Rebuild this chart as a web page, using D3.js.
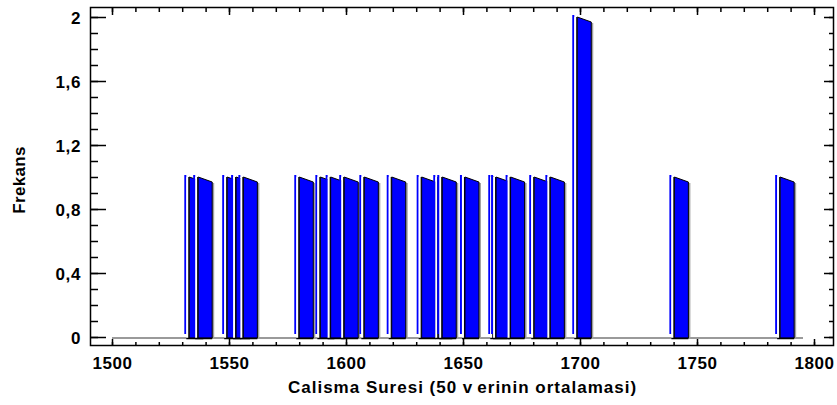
<!DOCTYPE html>
<html>
<head>
<meta charset="utf-8">
<script src="https://cdn.jsdelivr.net/npm/d3@7"></script>
<style>
  html, body { margin: 0; padding: 0; background: #fff; }
  svg { display: block; font-family: "Liberation Sans", Arial, sans-serif; }
</style>
</head>
<body>
<svg id="chart" width="837" height="405"></svg>
<script>
// ---- data ----
const classStarts = [1530.9, 1534.7, 1547.1, 1550.9, 1554.0, 1577.9, 1586.9, 1591.3, 1597.1, 1605.7,
                     1617.4, 1630.2, 1637.3, 1639.0, 1648.7, 1660.8, 1662.0, 1668.2, 1678.3, 1685.2,
                     1696.7, 1738.2, 1783.4];
const frequencies = [1, 1, 1, 1, 1, 1, 1, 1, 1, 1,
                     1, 1, 1, 1, 1, 1, 1, 1, 1, 1,
                     2, 1, 1];
const xTickValues = [1500, 1550, 1600, 1650, 1700, 1750, 1800];
const yTickValues = [0, 0.4, 0.8, 1.2, 1.6, 2];
const yTickLabels = ["0", "0,4", "0,8", "1,2", "1,6", "2"];
const xTitle = "Calisma Suresi (50 verinin ortalamasi)";
const yTitle = "Frekans";

// ---- layout ----
const frame = { left: 90, right: 833, top: 7, bottom: 345 };
const svg = d3.select("#chart");
const x = d3.scaleLinear().domain([1500, 1800]).range([112, 814]);
const y = d3.scaleLinear().domain([0, 2]).range([337, 17]);

const xMinor = d3.range(1500, 1801, 10);
const yMinor = d3.range(0, 2.001, 0.1).map(v => +v.toFixed(1));

// floor line
svg.append("line")
  .attr("x1", x(1500)).attr("x2", x(1800) - 11)
  .attr("y1", y(0) + 1).attr("y2", y(0) + 1)
  .attr("stroke", "#9a9a9a").attr("stroke-width", 2);

// bars (3D look)
const depth = 14, drop = 5;
const bars = svg.append("g").selectAll("g")
  .data(classStarts.map((c, i) => ({ c, f: frequencies[i] })))
  .join("g");

bars.each(function(d) {
  const g = d3.select(this);
  const x0 = x(d.c);
  const top = y(d.f);
  const base = y(0) + 1;
  // blue back edge
  g.append("rect").attr("x", x0).attr("y", top - 2).attr("width", 2)
    .attr("height", base - 4 - (top - 2)).attr("fill", "#0000ff");
  // shadow
  g.append("rect").attr("x", x0 + 5 + depth).attr("y", top + drop + 1).attr("width", 2)
    .attr("height", base - top - drop).attr("fill", "#a0a0a0");
  // white front face
  g.append("rect").attr("x", x0 + 2).attr("y", top).attr("width", 3)
    .attr("height", base - top).attr("fill", "#fff");
  // black edge
  g.append("line").attr("x1", x0 + 4.5).attr("x2", x0 + 4.5).attr("y1", top).attr("y2", base)
    .attr("stroke", "#000").attr("stroke-width", 1);
  // side face
  const pts = [[x0 + 5, top], [x0 + 5 + depth, top + drop], [x0 + 5 + depth, base], [x0 + 5, base]];
  g.append("polygon").attr("points", pts.map(p => p.join(",")).join(" "))
    .attr("fill", "#0000ff").attr("stroke", "#000").attr("stroke-width", 1);
  // bottom edge
  g.append("line").attr("x1", x0 + 2).attr("x2", x0 + 5 + depth).attr("y1", base + 0.5).attr("y2", base + 0.5)
    .attr("stroke", "#000").attr("stroke-width", 1.5);
});

// frame
svg.append("rect").attr("x", frame.left + 0.5).attr("y", frame.top + 0.5)
  .attr("width", frame.right - frame.left).attr("height", frame.bottom - frame.top)
  .attr("fill", "none").attr("stroke", "#000").attr("stroke-width", 1.5);

// bottom axis ticks
const axB = svg.append("g").attr("transform", `translate(0,${frame.bottom})`)
  .call(d3.axisBottom(x).tickValues(xMinor).tickSize(-3).tickFormat(""));
axB.select(".domain").remove();
axB.selectAll("line").attr("stroke-width", 1.5);
const axBM = svg.append("g").attr("transform", `translate(0,${frame.bottom})`)
  .call(d3.axisBottom(x).tickValues(xTickValues).tickSize(-6).tickFormat(d => d));
axBM.select(".domain").remove();
axBM.selectAll("line").attr("stroke-width", 1.5);
axBM.selectAll("text").attr("y", 24).attr("dy", null)
  .attr("font-size", 17).attr("font-weight", "bold").attr("letter-spacing", 0.6).attr("fill", "#000");

// top axis ticks
const axT = svg.append("g").attr("transform", `translate(0,${frame.top + 1})`)
  .call(d3.axisTop(x).tickValues(xMinor).tickSize(-4).tickFormat(""));
axT.select(".domain").remove();
axT.selectAll("line").attr("stroke-width", 1.5);
const axTM = svg.append("g").attr("transform", `translate(0,${frame.top + 1})`)
  .call(d3.axisTop(x).tickValues(xTickValues).tickSize(-7).tickFormat(""));
axTM.select(".domain").remove();
axTM.selectAll("line").attr("stroke-width", 1.5);

// left axis
const axL = svg.append("g").attr("transform", `translate(${frame.left + 1},0)`)
  .call(d3.axisLeft(y).tickValues(yMinor).tickSize(-7).tickFormat(""));
axL.select(".domain").remove();
axL.selectAll("line").attr("stroke-width", 1.5);
const axLM = svg.append("g").attr("transform", `translate(${frame.left + 1},0)`)
  .call(d3.axisLeft(y).tickValues(yTickValues).tickSize(-15)
    .tickFormat((d, i) => yTickLabels[i]));
axLM.select(".domain").remove();
axLM.selectAll("line").attr("stroke-width", 1.5);
axLM.selectAll("text").attr("x", -10).attr("dy", "0.36em")
  .attr("font-size", 17).attr("font-weight", "bold").attr("letter-spacing", 0.6).attr("fill", "#000");

// right axis
const axR = svg.append("g").attr("transform", `translate(${frame.right},0)`)
  .call(d3.axisRight(y).tickValues(yMinor).tickSize(-4).tickFormat(""));
axR.select(".domain").remove();
axR.selectAll("line").attr("stroke-width", 1.5);
const axRM = svg.append("g").attr("transform", `translate(${frame.right},0)`)
  .call(d3.axisRight(y).tickValues(yTickValues).tickSize(-9).tickFormat(""));
axRM.select(".domain").remove();
axRM.selectAll("line").attr("stroke-width", 1.5);

// titles
const xt = svg.append("text")
  .attr("x", (frame.left + frame.right) / 2 + 1).attr("y", 393)
  .attr("text-anchor", "middle").attr("font-size", 17).attr("font-weight", "bold")
  .attr("letter-spacing", 1).attr("fill", "#000");
xt.append("tspan").text("Calisma Suresi (50 v");
xt.append("tspan").attr("dx", 4).text("erinin ortalamasi)");

svg.append("text")
  .attr("transform", "translate(25,180) rotate(-90)")
  .attr("text-anchor", "middle").attr("font-size", 17).attr("font-weight", "bold")
  .attr("letter-spacing", 0.3).attr("fill", "#000")
  .text(yTitle);
</script>
</body>
</html>
